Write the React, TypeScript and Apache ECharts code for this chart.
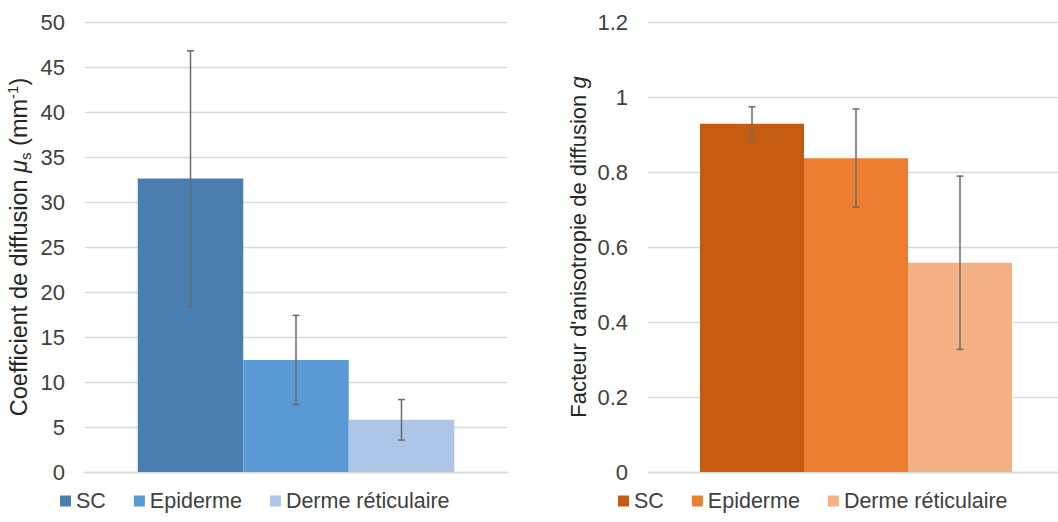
import React, { useEffect, useRef } from "react";
import * as echarts from "echarts";

const categories = ["Peau"];
const layers = ["SC", "Epiderme", "Derme réticulaire"];
const scatteringMeans = [32.6, 12.45, 5.8];
const scatteringErrors = [14.2, 4.95, 2.25];
const anisotropyMeans = [0.929, 0.837, 0.558];
const anisotropyErrors = [0.045, 0.131, 0.231];
const blueColors = ["#4A7EB0", "#5B9BD5", "#ADC5E7"];
const orangeColors = ["#C55A11", "#ED7D31", "#F4B183"];
const leftAxis = { min: 0, max: 50, interval: 5 };
const rightAxis = { min: 0, max: 1.2, interval: 0.2 };

const FONT = 'Arial, "Liberation Sans", Helvetica, sans-serif';
const TXT = "#404040";
const NAME = "#262626";
const BAR_W = [105.5, 104];

function errSeries(gridIdx: number, means: number[], errs: number[], k: number) {
  return {
    type: "custom",
    name: "err" + gridIdx + "-" + k,
    xAxisIndex: gridIdx,
    yAxisIndex: gridIdx,
    z: 5,
    silent: true,
    encode: { x: 0, y: 1 },
    data: [[0, means[k], errs[k]]],
    renderItem: (params: any, api: any) => {
      const x = api.value(0);
      const m = api.value(1);
      const e = api.value(2);
      const top = api.coord([x, m + e]);
      const bot = api.coord([x, m - e]);
      const cx = top[0] + (k - 1) * BAR_W[gridIdx];
      const st = { stroke: "#6A6A6A", lineWidth: 1.5 };
      return {
        type: "group",
        children: [
          { type: "line", shape: { x1: cx, y1: top[1], x2: cx, y2: bot[1] }, style: st },
          { type: "line", shape: { x1: cx - 3.5, y1: top[1], x2: cx + 3.5, y2: top[1] }, style: st },
          { type: "line", shape: { x1: cx - 3.5, y1: bot[1], x2: cx + 3.5, y2: bot[1] }, style: st },
        ],
      };
    },
  };
}

export default function App() {
  const ref = useRef<HTMLDivElement>(null);
  useEffect(() => {
    document.body.style.margin = "0";
    const chart = echarts.init(ref.current!, null, { renderer: "svg" });
    const axisLabel = { color: TXT, fontSize: 22, fontFamily: FONT, margin: 20 };
    const splitLine = { show: true, lineStyle: { color: "#D9D9D9", width: 1.3 } };
    const xAxisBase = {
      type: "category",
      data: categories,
      axisTick: { show: false },
      axisLabel: { show: false },
      axisLine: { show: true, lineStyle: { color: "#D9D9D9", width: 1.3 } },
    };
    const series: any[] = [];
    layers.forEach((name, k) => {
      series.push({
        type: "bar",
        name,
        xAxisIndex: 0,
        yAxisIndex: 0,
        barWidth: BAR_W[0],
        barGap: "0%",
        itemStyle: { color: blueColors[k] },
        data: [scatteringMeans[k]],
      });
    });
    layers.forEach((name, k) => {
      series.push({
        type: "bar",
        name,
        xAxisIndex: 1,
        yAxisIndex: 1,
        barWidth: BAR_W[1],
        barGap: "0%",
        itemStyle: { color: orangeColors[k] },
        data: [anisotropyMeans[k]],
      });
    });
    layers.forEach((_, k) => series.push(errSeries(0, scatteringMeans, scatteringErrors, k)));
    layers.forEach((_, k) => series.push(errSeries(1, anisotropyMeans, anisotropyErrors, k)));

    const legendBase = {
      top: 485,
      icon: "rect",
      itemWidth: 11,
      itemHeight: 11,
      itemGap: 28,
      selectedMode: false,
      textStyle: { color: TXT, fontSize: 21.5, fontFamily: FONT },
    };

    const rs = (size: number, extra: any) => ({ fontSize: size, fontFamily: FONT, color: NAME, lineHeight: 28, ...extra });

    chart.setOption({
      animation: false,
      textStyle: { fontFamily: FONT },
      grid: [
        { left: 85, width: 422, top: 22, bottom: 50, outerBoundsMode: "none" },
        { left: 648, width: 416, top: 22, bottom: 50, outerBoundsMode: "none" },
      ],
      xAxis: [
        { ...xAxisBase, gridIndex: 0 },
        { ...xAxisBase, gridIndex: 1 },
      ],
      yAxis: [
        {
          type: "value",
          gridIndex: 0,
          ...leftAxis,
          axisLabel,
          splitLine,
          axisLine: { show: false },
          axisTick: { show: false },
          name: "{a|Coefficient de diffusion }{i|μ}{sub|s}{a| (mm}{sup|-1}{a|)}",
          nameLocation: "middle",
          nameGap: 52,
          nameTextStyle: {
            color: NAME,
            fontFamily: FONT,
            rich: {
              a: rs(23.5, {}),
              i: rs(23.5, { fontStyle: "italic" }),
              sub: rs(15, { verticalAlign: "bottom" }),
              sup: rs(15, { verticalAlign: "top" }),
            },
          },
        },
        {
          type: "value",
          gridIndex: 1,
          ...rightAxis,
          axisLabel,
          splitLine,
          axisLine: { show: false },
          axisTick: { show: false },
          name: "{a|Facteur d'anisotropie de diffusion }{i|g}",
          nameLocation: "middle",
          nameGap: 56,
          nameTextStyle: {
            color: NAME,
            fontFamily: FONT,
            rich: {
              a: rs(22, {}),
              i: rs(22, { fontStyle: "italic" }),
            },
          },
        },
      ],
      legend: [
        {
          ...legendBase,
          left: 55,
          data: layers.map((n, k) => ({ name: n, itemStyle: { color: blueColors[k] } })),
        },
        {
          ...legendBase,
          left: 613,
          data: layers.map((n, k) => ({ name: n, itemStyle: { color: orangeColors[k] } })),
        },
      ],
      series,
    });
    return () => chart.dispose();
  }, []);
  return <div ref={ref} style={{ width: 1058, height: 522 }} />;
}
